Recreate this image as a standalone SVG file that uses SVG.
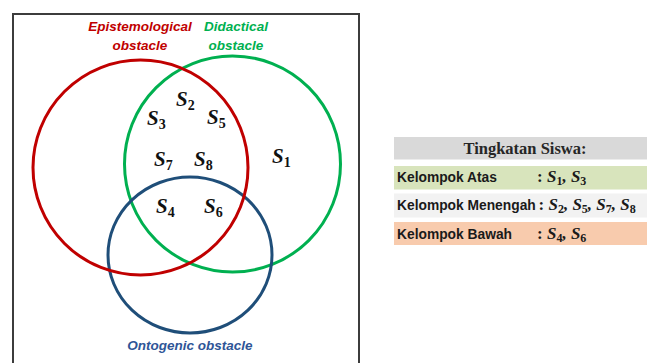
<svg xmlns="http://www.w3.org/2000/svg" width="647" height="363" viewBox="0 0 647 363">
<style>
.ring{fill:none;stroke-width:3}
.lbl{font-family:"Liberation Sans",Arial,sans-serif;font-weight:bold;font-style:italic;font-size:13.5px;text-anchor:middle}
.s{font-family:"Liberation Serif","Times New Roman",serif;font-weight:bold;font-style:italic;font-size:21px;fill:#111}
.sub{font-style:normal;font-size:14px}
.hdr{font-family:"Liberation Serif","Times New Roman",serif;font-weight:bold;font-size:16.5px;fill:#262626;text-anchor:middle}
.row{font-family:"Liberation Sans",Arial,sans-serif;font-weight:bold;font-size:13.8px;fill:#1a1a1a}
.ts{font-family:"Liberation Serif","Times New Roman",serif;font-weight:bold;font-style:italic;font-size:17px;fill:#1a1a1a}
.tsub{font-style:normal;font-size:12px}
</style>
<rect width="647" height="363" fill="#fff"/>
<path d="M13 363V14H359V363" fill="none" stroke="#3c3c3c" stroke-width="2"/>
<g id="didactical">
<circle class="ring" cx="232.5" cy="164" r="108" stroke="#00B050"/>
<text class="lbl" fill="#00B050" x="236" y="31">Didactical</text>
<text class="lbl" fill="#00B050" x="236" y="50">obstacle</text>
</g>
<g id="ontogenic">
<ellipse class="ring" cx="190" cy="255" rx="82" ry="78" stroke="#1F4E79"/>
<text class="lbl" fill="#2E5597" x="190" y="350">Ontogenic obstacle</text>
</g>
<g id="epistemological">
<circle class="ring" cx="140.5" cy="167.5" r="107.5" stroke="#C00000"/>
<text class="lbl" fill="#C00000" x="140" y="31">Epistemological</text>
<text class="lbl" fill="#C00000" x="140" y="50">obstacle</text>
</g>
<g id="students">
<text class="s" x="176" y="106">S<tspan class="sub" dy="4">2</tspan></text>
<text class="s" x="147" y="125">S<tspan class="sub" dy="4">3</tspan></text>
<text class="s" x="207" y="124">S<tspan class="sub" dy="4">5</tspan></text>
<text class="s" x="154" y="166">S<tspan class="sub" dy="4">7</tspan></text>
<text class="s" x="194" y="166">S<tspan class="sub" dy="4">8</tspan></text>
<text class="s" x="272" y="163">S<tspan class="sub" dy="4">1</tspan></text>
<text class="s" x="156" y="213">S<tspan class="sub" dy="4">4</tspan></text>
<text class="s" x="204" y="213">S<tspan class="sub" dy="4">6</tspan></text>
</g>
<g id="table">
<rect x="394" y="137" width="253" height="22.5" fill="#D9D9D9"/>
<text class="hdr" x="525" y="154">Tingkatan Siswa:</text>
<rect x="394" y="166" width="253" height="23.5" fill="#D8E4BC"/>
<text class="row" x="397" y="182">Kelompok Atas</text>
<text class="ts" x="537" y="182"><tspan font-style="normal">:</tspan> S<tspan class="tsub" dy="3">1</tspan><tspan dy="-3">, S</tspan><tspan class="tsub" dy="3">3</tspan></text>
<rect x="394" y="193.5" width="253" height="24" fill="#F2F2F2"/>
<text class="row" x="397" y="210">Kelompok Menengah</text>
<text class="ts" x="538.5" y="210"><tspan font-style="normal">:</tspan> S<tspan class="tsub" dy="3">2</tspan><tspan dy="-3">, S</tspan><tspan class="tsub" dy="3">5</tspan><tspan dy="-3">, S</tspan><tspan class="tsub" dy="3">7</tspan><tspan dy="-3">, S</tspan><tspan class="tsub" dy="3">8</tspan></text>
<rect x="394" y="222" width="253" height="23" fill="#F8CBAD"/>
<text class="row" x="397" y="239">Kelompok Bawah</text>
<text class="ts" x="537" y="239"><tspan font-style="normal">:</tspan> S<tspan class="tsub" dy="3">4</tspan><tspan dy="-3">, S</tspan><tspan class="tsub" dy="3">6</tspan></text>
</g>
</svg>
